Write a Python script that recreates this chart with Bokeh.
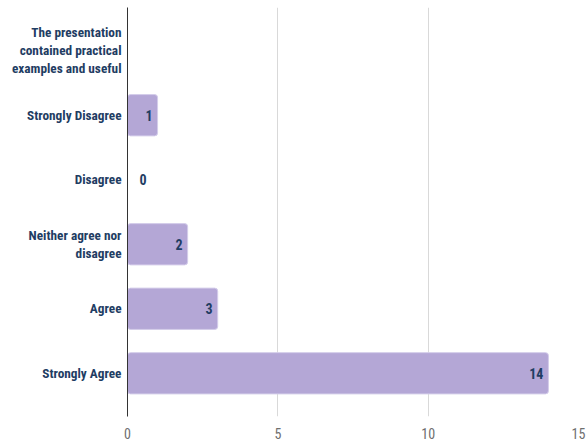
from bokeh.plotting import figure
from bokeh.models import ColumnDataSource, FactorRange
from bokeh.embed import file_html
from bokeh.resources import INLINE
from bokeh.core.properties import value

categories = [
    "The presentation\ncontained practical\nexamples and useful",
    "Strongly Disagree",
    "Disagree",
    "Neither agree nor\ndisagree",
    "Agree",
    "Strongly Agree",
]
bar_categories = categories[1:]
values = [1, 0, 2, 3, 14]
x_ticks = [0, 5, 10, 15]

FONT = "Roboto Condensed"
NAVY = "#1f3d63"
BAR = "#b4a7d6"

p = figure(
    width=586, height=441,
    y_range=FactorRange(*list(reversed(categories)), range_padding=0.17,
                        range_padding_units="absolute"),
    x_range=(0, 15),
    output_backend="svg", toolbar_location=None,
    min_border_left=127, min_border_right=8, min_border_top=7, min_border_bottom=25,
)
p.outline_line_color = None

src = ColumnDataSource(dict(
    y=bar_categories,
    x=values,
    label=[str(v) for v in values],
    align=["right" if v > 0 else "left" for v in values],
    off=[-5 if v > 0 else 12 for v in values],
))
p.hbar(y="y", right="x", left=0, height=0.64, source=src,
       fill_color=BAR, line_color="#d4cdea", line_width=1, border_radius=3)
p.text(x="x", y="y", text="label", source=src, text_align="align", x_offset="off",
       text_baseline="middle", text_color=NAVY, text_font_style="bold",
       text_font_size="14px", text_font=value(FONT))

p.xaxis.ticker = x_ticks
p.xaxis.axis_line_color = None
p.xaxis.major_tick_line_color = None
p.xaxis.minor_tick_line_color = None
p.xaxis.major_tick_out = 0
p.xaxis.major_tick_in = 0
p.xaxis.major_label_text_color = "#6f6f6f"
p.xaxis.major_label_text_font = FONT
p.xaxis.major_label_text_font_size = "14px"
p.xaxis.major_label_standoff = 11

p.yaxis.axis_line_color = "#333333"
p.yaxis.axis_line_width = 1
p.yaxis.major_tick_line_color = None
p.yaxis.minor_tick_line_color = None
p.yaxis.major_tick_out = 0
p.yaxis.major_tick_in = 0
p.yaxis.major_label_text_color = NAVY
p.yaxis.major_label_text_font = FONT
p.yaxis.major_label_text_font_style = "bold"
p.yaxis.major_label_text_font_size = "13.3px"
p.yaxis.major_label_standoff = 6

p.xgrid.grid_line_color = "#d9d9d9"
p.xgrid.ticker = x_ticks
p.ygrid.grid_line_color = None

open("out.html", "w").write(file_html(p, INLINE))
